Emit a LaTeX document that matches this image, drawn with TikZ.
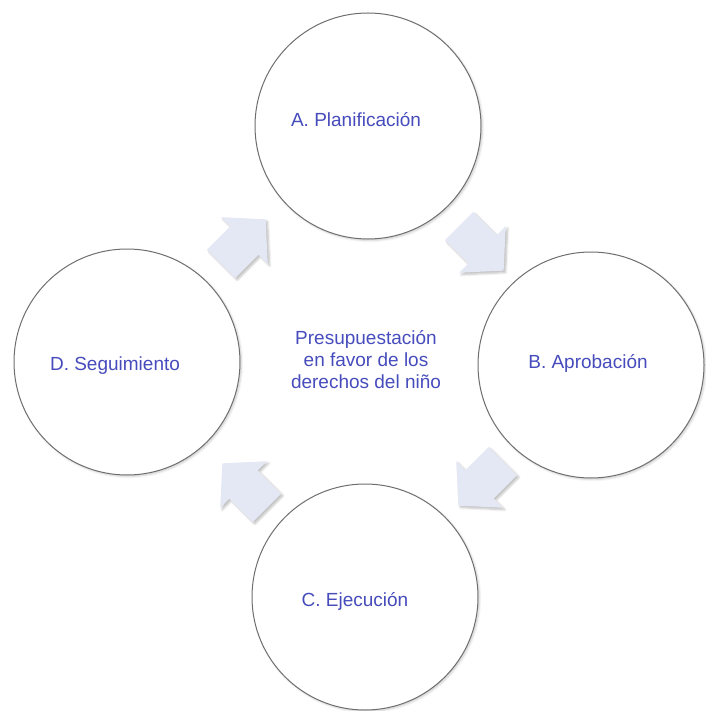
\documentclass[tikz,border=0pt]{standalone}
\usepackage{fontspec}
\setmainfont{Liberation Sans}
\usepackage{xcolor}
\usepackage{tikz}
\usetikzlibrary{shadows.blur}

\definecolor{stagetext}{RGB}{70,76,188}
\definecolor{stageline}{RGB}{110,110,110}
\definecolor{cyclefill}{RGB}{228,231,244}

\begin{document}
\begin{tikzpicture}[x=1pt, y=-1pt,
  stage/.style={circle, draw=stageline, line width=1pt, fill=white, minimum size=226pt, inner sep=0pt,
    blur shadow={shadow xshift=1.5pt, shadow yshift=-1.5pt, shadow blur steps=4, shadow opacity=20}},
  stagelabel/.style={font=\fontsize{19}{22}\selectfont, text=stagetext, anchor=base, inner sep=0pt},
  cyclearrow/.style={fill=cyclefill,
    blur shadow={shadow xshift=2pt, shadow yshift=-2pt, shadow blur steps=5, shadow opacity=25}}]
\useasboundingbox (0,0) rectangle (705,711);

% the four stages
\node[stage] (a) at (368,126) {};
\node[stage] (b) at (591,365) {};
\node[stage] (c) at (365,597) {};
\node[stage] (d) at (127,362) {};

\node[stagelabel] (la) at (356,127) {A. Planificación};
\node[stagelabel] (lb) at (588,368) {B. Aprobación};
\node[stagelabel] (lc) at (355,606) {C. Ejecución};
\node[stagelabel] (ld) at (115,370) {D. Seguimiento};

% centre
\node[stagelabel, anchor=center, align=center] (mid) at (366,360)
  {Presupuestación\\en favor de los\\derechos del niño};

% block arrows between the stages
\foreach \px/\py/\ang in {243/242/45, 481/248/-45, 481/483/-135, 245/486/135}
  \fill[cyclearrow, shift={(\px,\py)}, rotate=\ang]
    (-31,-20) -- (2,-20) -- (2,-33) -- (32,0) -- (2,33) -- (2,20) -- (-31,20) -- cycle;
\end{tikzpicture}
\end{document}
